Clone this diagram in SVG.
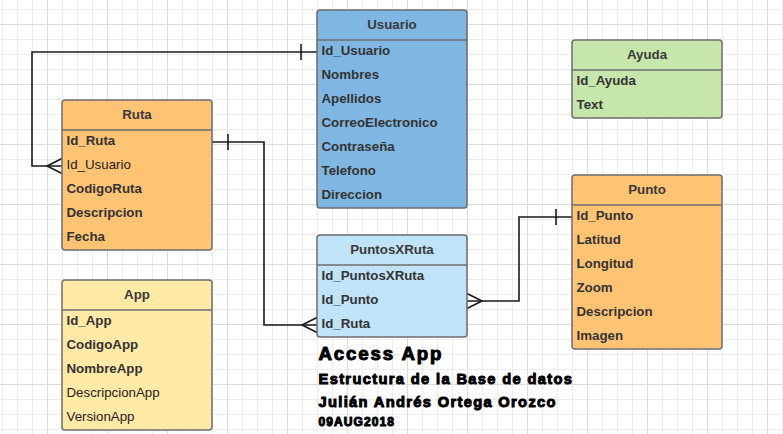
<svg xmlns="http://www.w3.org/2000/svg" width="783" height="434" viewBox="0 0 783 434">
<defs>
<pattern id="grid" x="47" y="24" width="60" height="60" patternUnits="userSpaceOnUse">
<rect x="15" y="0" width="1" height="60" fill="#ececec"/>
<rect x="30" y="0" width="1" height="60" fill="#ececec"/>
<rect x="45" y="0" width="1" height="60" fill="#ececec"/>
<rect x="0" y="15" width="60" height="1" fill="#ececec"/>
<rect x="0" y="30" width="60" height="1" fill="#ececec"/>
<rect x="0" y="45" width="60" height="1" fill="#ececec"/>
<rect x="0" y="0" width="1" height="60" fill="#dcdcdc"/>
<rect x="0" y="0" width="60" height="1" fill="#dcdcdc"/>
</pattern>
<marker id="one" markerUnits="userSpaceOnUse" orient="auto-start-reverse" markerWidth="40" markerHeight="40" refX="0" refY="0" overflow="visible">
<path d="M-16,-8 V8" fill="none" stroke="#1a1a1a" stroke-width="1.6"/>
</marker>
<marker id="many" markerUnits="userSpaceOnUse" orient="auto" markerWidth="40" markerHeight="40" refX="0" refY="0" overflow="visible">
<path d="M0,-7.5 L-15,0 L0,7.5" fill="none" stroke="#1a1a1a" stroke-width="1.6"/>
</marker>
</defs>
<style>
.box{stroke:#6e6e6e;stroke-width:1.5}
.sep{stroke:#6e6e6e;stroke-width:1.5}
.t{font-family:"Liberation Sans",Arial,sans-serif;font-size:13.3px;font-weight:bold;fill:#3a3a3a;text-anchor:middle}
.f{font-family:"Liberation Sans",Arial,sans-serif;font-size:13.3px;font-weight:bold;fill:#333333}
.r{font-weight:normal;fill:#1e1e1e}
.conn{fill:none;stroke:#1a1a1a;stroke-width:1.6;marker-start:url(#one);marker-end:url(#many)}
.big{font-family:"Liberation Sans",Arial,sans-serif;font-weight:bold;fill:#000;stroke:#000;stroke-width:1;stroke-linejoin:round}
</style>
<rect width="783" height="434" fill="#ffffff"/>
<rect width="783" height="434" fill="url(#grid)"/>

<g id="connectors">
<path class="conn" d="M317 52 H32 V166 H62"/>
<path class="conn" d="M212 142 H264 V325 H317"/>
<path class="conn" d="M572 217 H519 V301 H467"/>
</g>

<g id="Usuario">
<rect class="box" x="317" y="10" width="150" height="198" rx="3" fill="#7fb7e2"/>
<line class="sep" x1="317" y1="40" x2="467" y2="40"/>
<text class="t" x="392" y="28.5">Usuario</text>
<text class="f" x="321.5" y="54.8">Id_Usuario</text>
<text class="f" x="321.5" y="78.8">Nombres</text>
<text class="f" x="321.5" y="102.8">Apellidos</text>
<text class="f" x="321.5" y="126.8">CorreoElectronico</text>
<text class="f" x="321.5" y="150.8">Contraseña</text>
<text class="f" x="321.5" y="174.8">Telefono</text>
<text class="f" x="321.5" y="198.8">Direccion</text>
</g>

<g id="Ruta">
<rect class="box" x="62" y="100" width="150" height="150" rx="3" fill="#ffc374"/>
<line class="sep" x1="62" y1="130" x2="212" y2="130"/>
<text class="t" x="137" y="118.5">Ruta</text>
<text class="f" x="66.5" y="144.8">Id_Ruta</text>
<text class="f r" x="66.5" y="168.8">Id_Usuario</text>
<text class="f" x="66.5" y="192.8">CodigoRuta</text>
<text class="f" x="66.5" y="216.8">Descripcion</text>
<text class="f" x="66.5" y="240.8">Fecha</text>
</g>

<g id="PuntosXRuta">
<rect class="box" x="317" y="235" width="150" height="102" rx="3" fill="#c1e3f7"/>
<line class="sep" x1="317" y1="265" x2="467" y2="265"/>
<text class="t" x="392" y="253.5">PuntosXRuta</text>
<text class="f" x="321.5" y="279.8">Id_PuntosXRuta</text>
<text class="f" x="321.5" y="303.8">Id_Punto</text>
<text class="f" x="321.5" y="327.8">Id_Ruta</text>
</g>

<g id="Ayuda">
<rect class="box" x="572" y="40" width="150" height="78" rx="3" fill="#c6e6ab"/>
<line class="sep" x1="572" y1="70" x2="722" y2="70"/>
<text class="t" x="647" y="58.5">Ayuda</text>
<text class="f" x="576.5" y="84.8">Id_Ayuda</text>
<text class="f" x="576.5" y="108.8">Text</text>
</g>

<g id="Punto">
<rect class="box" x="572" y="175" width="150" height="174" rx="3" fill="#ffc374"/>
<line class="sep" x1="572" y1="205" x2="722" y2="205"/>
<text class="t" x="647" y="193.5">Punto</text>
<text class="f" x="576.5" y="219.8">Id_Punto</text>
<text class="f" x="576.5" y="243.8">Latitud</text>
<text class="f" x="576.5" y="267.8">Longitud</text>
<text class="f" x="576.5" y="291.8">Zoom</text>
<text class="f" x="576.5" y="315.8">Descripcion</text>
<text class="f" x="576.5" y="339.8">Imagen</text>
</g>

<g id="App">
<rect class="box" x="62" y="280" width="150" height="150" rx="3" fill="#ffe9a6"/>
<line class="sep" x1="62" y1="310" x2="212" y2="310"/>
<text class="t" x="137" y="298.5">App</text>
<text class="f" x="66.5" y="324.8">Id_App</text>
<text class="f" x="66.5" y="348.8">CodigoApp</text>
<text class="f" x="66.5" y="372.8">NombreApp</text>
<text class="f r" x="66.5" y="396.8">DescripcionApp</text>
<text class="f r" x="66.5" y="420.8">VersionApp</text>
</g>

<g id="caption">
<text class="big" x="318.5" y="360" font-size="18.67" textLength="123" lengthAdjust="spacing">Access App</text>
<text class="big" x="318.5" y="383.5" font-size="14.67" textLength="253.5" lengthAdjust="spacing">Estructura de la Base de datos</text>
<text class="big" x="318.5" y="406.7" font-size="14.67" textLength="237" lengthAdjust="spacing">Julián Andrés Ortega Orozco</text>
<text class="big" x="318.5" y="425.7" font-size="12" textLength="75.5" lengthAdjust="spacing">09AUG2018</text>
</g>
</svg>
